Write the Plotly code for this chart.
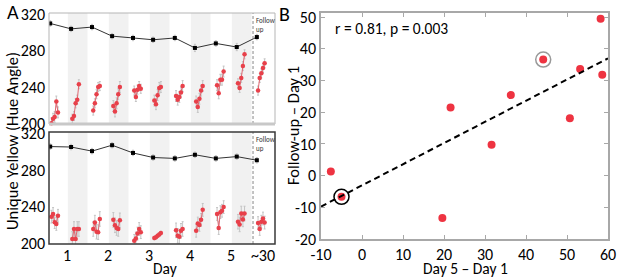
import numpy as np
import plotly.graph_objects as go

W, H = 617, 279
FONT = "Carlito, Lato, sans-serif"

# ---------------- data ----------------
# session times (day units); 10 training sessions (2 per day) + follow-up
session_day = [0.59, 1.10, 1.61, 2.10, 2.61, 3.10, 3.63, 4.12, 4.63, 5.14, 5.63]

# Observer 1 (top)
top_black = [310, 304, 306, 296, 294, 292, 294, 283, 288, 284, 295]
top_black_err = [3, 3, 3, 3, 3, 3, 3, 4, 3, 4, 3]
top_red = [
    [200, 205, 207, 224, 212],
    [205, 208, 222, 226, 243],
    [214, 222, 232, 240, 241],
    [219, 213, 222, 232, 240],
    [236, 229, 237, 241, 238],
    [225, 221, 231, 239, 240],
    [230, 226, 229, 234, 241],
    [224, 218, 227, 236, 241],
    [242, 233, 248, 248, 257],
    [244, 239, 250, 263, 276],
    [236, 250, 255, 261, 266],
]
top_red_err = [6, 5, 5, 6, 5, 6, 6, 6, 6, 5, 5]

# Observer 2 (bottom)
bot_black = [306, 305.5, 301, 307.5, 299, 294, 293, 297, 293, 295, 291]
bot_black_err = [3, 3, 3, 3, 3, 3, 3, 3, 3, 3, 3]
bot_red = [
    [229, 232, 223, 221, 230],
    [204.5, 215.5, 204.5, 215.5, 215.5],
    [215.5, 222.5, 212.5, 212, 226.5],
    [225.5, 219.5, 216.5, 215.5, 225],
    [202.5, 205, 210.5, 215.5, 212],
    [205.5, 206.5, 208, 209.5, 211],
    [214, 208, 207, 213.5, 215.5],
    [213.5, 221.5, 220, 225.5, 236.5],
    [232, 216.5, 234, 235.5, 239.5],
    [223.5, 220.5, 232.5, 226, 232.5],
    [222, 215.5, 223.5, 227, 222.5],
]
bot_red_err = [7, 8, 8, 8, 7, 2, 8, 7, 7, 8, 7]

day_ticks = [1, 2, 3, 4, 5, 5.78]
day_labels = ["1", "2", "3", "4", "5", "~30"]
a_yticks = [200, 240, 280, 320]

# Panel B
diff_day5 = [-7.6, -5.0, 19.6, 21.6, 31.6, 36.3, 44.2, 50.7, 53.2, 58.2, 58.6]
diff_follow = [1.3, -6.7, -13.4, 21.5, 9.7, 25.4, 36.6, 18.1, 33.6, 49.5, 31.8]
b_xticks = [-10, 0, 10, 20, 30, 40, 50, 60]
b_yticks = [-20, -10, 0, 10, 20, 30, 40, 50]
stats_text = "r = 0.81, p = 0.003"

# ---------------- helpers ----------------
def px_x(p):
    return p / W

def px_y(p):
    return 1 - p / H

RED = "#e8404a"
RED_LINE = "#e06670"
ERR = "#c4c4c4"
trial_step = 0.04

fig = go.Figure()

def add_panel(xa, ya, black, black_err, red, red_err):
    for i, s in enumerate(session_day):
        xs = [s + trial_step * (k + 0.75) for k in range(len(red[i]))]
        fig.add_trace(go.Scatter(
            x=xs, y=red[i], mode="lines+markers", xaxis=xa, yaxis=ya,
            line=dict(color=RED_LINE, width=1),
            marker=dict(color=RED, size=4.5),
            error_y=dict(type="constant", value=red_err[i], color=ERR, thickness=1, width=1),
            showlegend=False, cliponaxis=False))
    fig.add_trace(go.Scatter(
        x=session_day, y=black, mode="lines+markers", xaxis=xa, yaxis=ya,
        line=dict(color="#333333", width=1),
        marker=dict(color="black", size=4, symbol="square"),
        error_y=dict(type="data", array=black_err, color=ERR, thickness=1, width=1),
        showlegend=False))

add_panel("x", "y", top_black, top_black_err, top_red, top_red_err)
add_panel("x2", "y2", bot_black, bot_black_err, bot_red, bot_red_err)

# Panel B scatter
fig.add_trace(go.Scatter(x=diff_day5, y=diff_follow, mode="markers", xaxis="x3", yaxis="y3",
                         marker=dict(color="#ee3341", size=8), showlegend=False))
# fitted regression line
b_xrange = [b_xticks[0], b_xticks[-1]]
slope, intercept = np.polyfit(diff_day5, diff_follow, 1)
xl = np.array(b_xrange, dtype=float)
fig.add_trace(go.Scatter(x=xl, y=slope * xl + intercept, mode="lines", xaxis="x3", yaxis="y3",
                         line=dict(color="black", width=2, dash="6px,4px"), showlegend=False))
# highlighted observers (circled)
fig.add_trace(go.Scatter(x=[diff_day5[1]], y=[diff_follow[1]], mode="markers", xaxis="x3", yaxis="y3",
                         marker=dict(symbol="circle-open", size=15, color="black", line=dict(width=1.5)),
                         showlegend=False))
fig.add_trace(go.Scatter(x=[diff_day5[6]], y=[diff_follow[6]], mode="markers", xaxis="x3", yaxis="y3",
                         marker=dict(symbol="circle-open", size=15, color="#999999", line=dict(width=1.5)),
                         showlegend=False))

a_xrange = [0.561, 6.073]
follow_split = 5.537
tickfont = dict(family=FONT, size=16, color="black")

common_x = dict(range=a_xrange, showgrid=False, zeroline=False, domain=[px_x(49), px_x(275)],
                automargin=False)
fig.update_layout(
    width=W, height=H, margin=dict(l=0, r=0, t=0, b=0, autoexpand=False),
    paper_bgcolor="white", plot_bgcolor="white",
    font=dict(family=FONT, size=16, color="black"),
    xaxis=dict(**common_x, anchor="y", showticklabels=False, ticks="", showline=False),
    yaxis=dict(domain=[px_y(124), px_y(13)], range=[199.2, 321.5], anchor="x",
               tickvals=a_yticks, tickfont=tickfont, showgrid=False, zeroline=False,
               showline=False, ticks="", ticklabelstandoff=3, automargin=False),
    xaxis2=dict(**common_x, anchor="y2", tickvals=day_ticks, ticktext=day_labels,
                tickfont=tickfont, ticks="", showline=False, ticklabelstandoff=0),
    yaxis2=dict(domain=[px_y(244), px_y(132)], range=[199, 322], anchor="x2",
                tickvals=a_yticks, tickfont=tickfont, showgrid=False, zeroline=False,
                showline=False, ticks="", ticklabelstandoff=3, automargin=False),
    xaxis3=dict(domain=[px_x(321), px_x(608)], range=b_xrange, anchor="y3",
                tickvals=b_xticks, ticktext=[str(v) for v in b_xticks], tickfont=tickfont,
                showgrid=False, zeroline=False, showline=True, linecolor="#a8a8a8", linewidth=1.5,
                mirror="ticks", ticks="inside", ticklen=4, tickcolor="#a8a8a8", automargin=False),
    yaxis3=dict(domain=[px_y(239), px_y(13)], range=[b_yticks[0], 51.3], anchor="x3",
                tickvals=b_yticks, ticktext=[str(v) for v in b_yticks], tickfont=tickfont,
                showgrid=False, zeroline=False, showline=True, linecolor="#a8a8a8", linewidth=1.5,
                mirror="ticks", ticks="inside", ticklen=4, tickcolor="#a8a8a8", automargin=False),
)

shapes = []
# gray day bands (second session of each day)
for d in day_ticks[:5]:
    for xr, yr in (("x", "y"), ("x2", "y2")):
        shapes.append(dict(type="rect", xref=xr, yref=yr + " domain", x0=d + 0.02, x1=d + 0.5,
                           y0=0, y1=1, fillcolor="#f1f1f1", line=dict(width=0), layer="below"))
# follow-up divider
for xr, yr in (("x", "y"), ("x2", "y2")):
    shapes.append(dict(type="line", xref=xr, yref=yr + " domain", x0=follow_split, x1=follow_split,
                       y0=0, y1=1, line=dict(color="#888888", width=1, dash="3px,2px")))
# frames
shapes.append(dict(type="rect", xref="x domain", yref="y domain", x0=0, x1=1, y0=0, y1=1,
                   line=dict(color="#b5b5b5", width=1)))
shapes.append(dict(type="line", xref="x domain", yref="y domain", x0=0, x1=1, y0=0, y1=0,
                   line=dict(color="#c8c8c8", width=3)))
shapes.append(dict(type="rect", xref="x2 domain", yref="y2 domain", x0=0, x1=1, y0=0, y1=1,
                   line=dict(color="#3a3a3a", width=1.5)))
fig.update_layout(shapes=shapes)

ann = []
def text(x, y, s, size, **kw):
    d = dict(x=px_x(x), y=px_y(y), xref="paper", yref="paper", text=s, showarrow=False,
             xanchor="center", yanchor="middle",
             font=dict(family=FONT, size=size, color=kw.pop("color", "black")))
    d.update(kw)
    ann.append(d)

text(13, 12, "A", 20)
text(284, 14, "B", 20)
text(12, 141, "Unique Yellow (Hue Angle)", 16.5, textangle=-90)
text(165, 268, "Day", 15.5)
text(293, 126, "Follow-up – Day 1", 16.5, textangle=-90)
text(465, 268, "Day 5 – Day 1", 15.5)
text(333, 28, stats_text, 15.5, xanchor="left")
text(254, 14, "Follow<br>up", 7, xanchor="left", align="left", color="#333333", yanchor="top")
text(254, 133, "Follow<br>up", 7, xanchor="left", align="left", color="#333333", yanchor="top")
fig.update_layout(annotations=ann)

fig.write_html("out.html", config={"displayModeBar": False},
               post_script="document.body.style.margin='0';document.body.style.overflow='hidden';")
